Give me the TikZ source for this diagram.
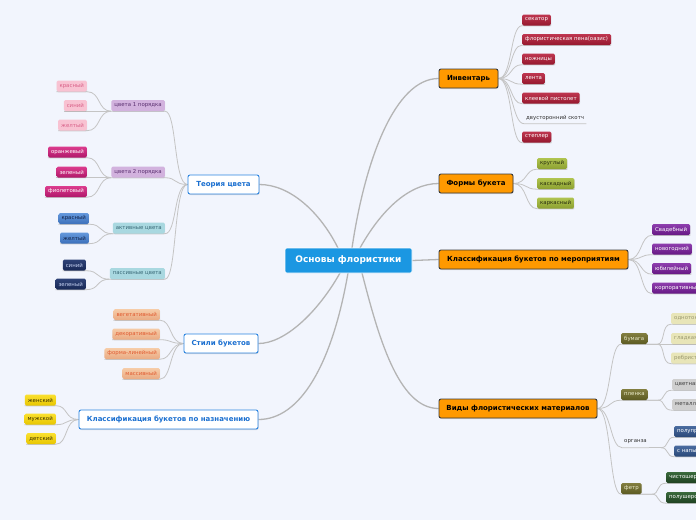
\documentclass[tikz,border=0pt]{standalone}
\usepackage{fontspec}
\setmainfont{DejaVu Sans}
\usetikzlibrary{shadows}
\definecolor{bgc}{HTML}{F2F5FD}
\definecolor{centerc}{HTML}{1B97E2}
\definecolor{orangec}{HTML}{FF9900}
\definecolor{darkb}{HTML}{3A3A3A}
\definecolor{blueb}{HTML}{2B84E0}
\definecolor{bluet}{HTML}{1A6FD0}
\definecolor{linec}{HTML}{C4C4C4}
\definecolor{mainline}{HTML}{B4B4B4}
\definecolor{crimtop}{HTML}{BE3650}
\definecolor{crimbot}{HTML}{96182E}
\definecolor{olitop}{HTML}{B0C450}
\definecolor{olibot}{HTML}{8CA030}
\definecolor{olitext}{HTML}{2A3010}
\definecolor{purtop}{HTML}{8E3EAE}
\definecolor{purbot}{HTML}{661884}
\definecolor{odtop}{HTML}{827E40}
\definecolor{odbot}{HTML}{5C5A22}
\definecolor{odtext}{HTML}{ECECCC}
\definecolor{paley}{HTML}{E8E5B8}
\definecolor{paleytext}{HTML}{9C9A70}
\definecolor{grayl}{HTML}{CFCFCF}
\definecolor{graytext}{HTML}{404040}
\definecolor{bdtop}{HTML}{4A6CA0}
\definecolor{bdbot}{HTML}{2A4878}
\definecolor{gdtop}{HTML}{3A6A3C}
\definecolor{gdbot}{HTML}{1E4020}
\definecolor{lpurp}{HTML}{D2B2DE}
\definecolor{lpurptext}{HTML}{5A3070}
\definecolor{lteal}{HTML}{A9D8E0}
\definecolor{ltealtext}{HTML}{3A6A78}
\definecolor{lpink}{HTML}{F8C2D2}
\definecolor{lpinktext}{HTML}{D86088}
\definecolor{magtop}{HTML}{DC3C8E}
\definecolor{magbot}{HTML}{B0186A}
\definecolor{bltop}{HTML}{6498DC}
\definecolor{blbot}{HTML}{3C70BA}
\definecolor{bltext}{HTML}{14244A}
\definecolor{nvtop}{HTML}{2E4276}
\definecolor{nvbot}{HTML}{182856}
\definecolor{nvtext}{HTML}{C8D4F4}
\definecolor{petop}{HTML}{F6CCA8}
\definecolor{pebot}{HTML}{EAAA82}
\definecolor{petext}{HTML}{E05A30}
\definecolor{yetop}{HTML}{FAE030}
\definecolor{yebot}{HTML}{E8C600}
\definecolor{yetext}{HTML}{3A3000}
\pgfdeclarelayer{bglayer}
\pgfsetlayers{bglayer,main}
\tikzset{
  leaf/.style={rounded corners=1.5pt, inner xsep=3pt, inner ysep=0pt, minimum height=11pt,
    font=\fontsize{5.4}{6.4}\selectfont, drop shadow={opacity=0.2, shadow xshift=0.4pt, shadow yshift=-0.8pt}},
  crimson/.style={leaf, top color=crimtop, bottom color=crimbot, text=white},
  olivel/.style={leaf, top color=olitop, bottom color=olibot, text=olitext},
  purp/.style={leaf, top color=purtop, bottom color=purbot, text=white},
  oldark/.style={leaf, top color=odtop, bottom color=odbot, text=odtext},
  paley/.style={leaf, fill=paley, text=paleytext},
  grayl/.style={leaf, fill=grayl, text=graytext},
  bluedk/.style={leaf, top color=bdtop, bottom color=bdbot, text=white},
  greendk/.style={leaf, top color=gdtop, bottom color=gdbot, text=white},
  lpurp/.style={leaf, fill=lpurp, text=lpurptext},
  lteal/.style={leaf, fill=lteal, text=ltealtext},
  lpink/.style={leaf, fill=lpink, text=lpinktext},
  magen/.style={leaf, top color=magtop, bottom color=magbot, text=white},
  bluel/.style={leaf, top color=bltop, bottom color=blbot, text=bltext},
  navy/.style={leaf, top color=nvtop, bottom color=nvbot, text=nvtext},
  peach/.style={leaf, top color=petop, bottom color=pebot, text=petext},
  yell/.style={leaf, top color=yetop, bottom color=yebot, text=yetext},
  plain/.style={inner xsep=2pt, inner ysep=0pt, minimum height=11pt, font=\fontsize{5.4}{6.4}\selectfont, text=black!80},
  mainR/.style={draw=darkb, line width=0.9pt, fill=orangec, rounded corners=2pt, minimum height=19pt,
    inner xsep=6pt, font=\fontsize{7}{8}\selectfont\bfseries, text=black,
    drop shadow={opacity=0.25, shadow xshift=0.6pt, shadow yshift=-1pt}},
  mainL/.style={draw=blueb, line width=0.9pt, fill=white, rounded corners=2pt, minimum height=19pt,
    inner xsep=6pt, font=\fontsize{7}{8}\selectfont\bfseries, text=bluet,
    drop shadow={opacity=0.25, shadow xshift=0.6pt, shadow yshift=-1pt}},
  centerbox/.style={fill=centerc, draw=white, line width=0.6pt, rounded corners=2pt, minimum width=127pt,
    minimum height=25pt, font=\fontsize{9}{10}\selectfont\bfseries, text=white},
  conn/.style={draw=linec, line width=0.8pt},
  mconn/.style={draw=mainline, line width=1.3pt},
}
\begin{document}
\begin{tikzpicture}[x=1pt,y=-1pt]
\useasboundingbox (0,0) rectangle (696,520);
\clip (0,0) rectangle (696,520);
\begin{pgfonlayer}{bglayer}
\fill[bgc] (0,0) rectangle (696,520);
\end{pgfonlayer}

% center
\node[centerbox] (c) at (348.5,260.5) {Основы флористики};
\coordinate (s1) at (352,248);
\coordinate (s2) at (360,248);
\coordinate (s3) at (338,248);
\coordinate (s4) at (362,273);
\coordinate (s5) at (340,273);
\coordinate (s6) at (348,273);

% main nodes
\node[mainR, minimum width=59pt] (inv) at (468.5,78.5) {Инвентарь};
\node[mainR, minimum width=74pt] (frm) at (476,183.5) {Формы букета};
\node[mainR, minimum width=189pt] (mer) at (533.5,259.5) {Классификация букетов по мероприятиям};
\node[mainR, minimum width=158pt] (vid) at (518,408.5) {Виды флористических материалов};
\node[mainL, minimum width=71pt] (teo) at (223.5,184.5) {Теория цвета};
\node[mainL, minimum width=74pt] (sti) at (221,343.5) {Стили букетов};
\node[mainL, minimum width=179pt] (naz) at (168.5,419.5) {Классификация букетов по назначению};

% Inventory
\node[crimson, anchor=west] (i1) at (522,20) {секатор};
\node[crimson, anchor=west] (i2) at (522,39.5) {флористическая пена(оазис)};
\node[crimson, anchor=west] (i3) at (522,59) {ножницы};
\node[crimson, anchor=west] (i4) at (522,78.5) {лента};
\node[crimson, anchor=west] (i5) at (522,98) {клеевой пистолет};
\node[plain, anchor=west] (i6) at (524,118) {двусторонний скотч};
\node[crimson, anchor=west] (i7) at (522,137) {степлер};

% Forms
\node[olivel, anchor=west] (f1) at (537,163.5) {круглый};
\node[olivel, anchor=west] (f2) at (537,183.5) {каскадный};
\node[olivel, anchor=west] (f3) at (537,203) {каркасный};

% Events
\node[purp, anchor=west] (m1) at (652,229.5) {Свадебный};
\node[purp, anchor=west] (m2) at (652,249) {новогодний};
\node[purp, anchor=west] (m3) at (652,268.5) {юбилейный};
\node[purp, anchor=west] (m4) at (652,288) {корпоративный};

% Materials
\node[oldark, anchor=west] (v1) at (621,338.5) {бумага};
\node[oldark, anchor=west] (v2) at (621,394.5) {пленка};
\node[plain, anchor=west] (v3) at (622,442) {органза};
\node[oldark, anchor=west] (v4) at (621,488.5) {фетр};
\node[paley, anchor=west] (b1) at (671,318.5) {однотонная};
\node[paley, anchor=west] (b2) at (671,338.5) {гладкая};
\node[paley, anchor=west] (b3) at (671,358) {ребристая};
\node[grayl, anchor=west] (p1) at (672,384.5) {цветная};
\node[grayl, anchor=west] (p2) at (672,404.5) {металлизированная};
\node[bluedk, anchor=west] (o1) at (674,431.5) {полупрозрачная};
\node[bluedk, anchor=west] (o2) at (674,451) {с напылением};
\node[greendk, anchor=west] (t1) at (666,477.5) {чистошерстяной};
\node[greendk, anchor=west] (t2) at (666,497.5) {полушерстяной};

% Color theory
\node[lpurp, anchor=east] (k1) at (165,105.5) {цвета 1 порядка};
\node[lpurp, anchor=east] (k2) at (165,172) {цвета 2 порядка};
\node[lteal, anchor=east] (k3) at (165,228) {активные цвета};
\node[lteal, anchor=east] (k4) at (165,273.5) {пассивные цвета};
\node[lpink, anchor=east] (k11) at (87,86) {красный};
\node[lpink, anchor=east] (k12) at (87,105.5) {синий};
\node[lpink, anchor=east] (k13) at (87,125) {желтый};
\node[magen, anchor=east] (k21) at (87,152) {оранжевый};
\node[magen, anchor=east] (k22) at (87,172) {зеленый};
\node[magen, anchor=east] (k23) at (87,191.5) {фиолетовый};
\node[bluel, anchor=east] (k31) at (89,218.5) {красный};
\node[bluel, anchor=east] (k32) at (89,238) {желтый};
\node[navy, anchor=east] (k41) at (86,265) {синий};
\node[navy, anchor=east] (k42) at (86,284) {зеленый};

% Styles
\node[peach, anchor=east] (st1) at (160,314.5) {вегетативный};
\node[peach, anchor=east] (st2) at (160,334) {декоративный};
\node[peach, anchor=east] (st3) at (160,353.5) {форма-линейный};
\node[peach, anchor=east] (st4) at (160,373.5) {массивный};

% Purpose
\node[yell, anchor=east] (n1) at (56,400) {женский};
\node[yell, anchor=east] (n2) at (56,419) {мужской};
\node[yell, anchor=east] (n3) at (56,438.5) {детский};

\begin{pgfonlayer}{bglayer}
% main connectors
\draw[mconn] (s1) .. controls (365,160) and (395,78.5) .. (inv.west);
\draw[mconn] (s2) .. controls (380,212) and (408,183.5) .. (frm.west);
\draw[mconn] (c.east) -- (mer.west);
\draw[mconn] (s4) .. controls (378,335) and (398,408.5) .. (vid.west);
\draw[mconn] (s3) .. controls (320,212) and (290,184.5) .. (teo.east);
\draw[mconn] (s5) .. controls (318,312) and (285,343.5) .. (sti.east);
\draw[mconn] (s6) .. controls (332,365) and (300,419.5) .. (naz.east);
% right side children
\foreach \n in {i1,i2,i3,i4,i5,i6,i7}
  \draw[conn] (inv.east) .. controls +(14,0) and +(-12,0) .. (\n.south west) -- (\n.south east);
\foreach \n in {f1,f2,f3}
  \draw[conn] (frm.east) .. controls +(14,0) and +(-12,0) .. (\n.south west) -- (\n.south east);
\foreach \n in {m1,m2,m3,m4}
  \draw[conn] (mer.east) .. controls +(14,0) and +(-12,0) .. (\n.south west) -- (\n.south east);
\foreach \n in {v1,v2,v3,v4}
  \draw[conn] (vid.east) .. controls +(14,0) and +(-12,0) .. (\n.south west) -- (\n.south east);
\draw[conn] (v3.south east) -- ++(12,0) coordinate (v3e);
\foreach \n in {b1,b2,b3}
  \draw[conn] (v1.south east) -- ++(10,0) .. controls +(8,0) and +(-10,0) .. (\n.south west) -- (\n.south east);
\foreach \n in {p1,p2}
  \draw[conn] (v2.south east) -- ++(10,0) .. controls +(8,0) and +(-10,0) .. (\n.south west) -- (\n.south east);
\foreach \n in {o1,o2}
  \draw[conn] (v3e) .. controls +(8,0) and +(-8,0) .. (\n.south west) -- (\n.south east);
\foreach \n in {t1,t2}
  \draw[conn] (v4.south east) -- ++(10,0) .. controls +(8,0) and +(-10,0) .. (\n.south west) -- (\n.south east);
% left side children
\foreach \n in {k1,k2,k3,k4}
  \draw[conn] (teo.west) .. controls +(-14,0) and +(12,0) .. (\n.south east) -- (\n.south west);
\foreach \n in {k11,k12,k13}
  \draw[conn] (k1.south west) .. controls +(-14,0) and +(14,0) .. (\n.south east) -- (\n.south west);
\foreach \n in {k21,k22,k23}
  \draw[conn] (k2.south west) .. controls +(-14,0) and +(14,0) .. (\n.south east) -- (\n.south west);
\foreach \n in {k31,k32}
  \draw[conn] (k3.south west) .. controls +(-14,0) and +(14,0) .. (\n.south east) -- (\n.south west);
\foreach \n in {k41,k42}
  \draw[conn] (k4.south west) .. controls +(-14,0) and +(14,0) .. (\n.south east) -- (\n.south west);
\foreach \n in {st1,st2,st3,st4}
  \draw[conn] (sti.west) .. controls +(-14,0) and +(12,0) .. (\n.south east) -- (\n.south west);
\foreach \n in {n1,n2,n3}
  \draw[conn] (naz.west) .. controls +(-14,0) and +(12,0) .. (\n.south east) -- (\n.south west);
\end{pgfonlayer}
\end{tikzpicture}
\end{document}
